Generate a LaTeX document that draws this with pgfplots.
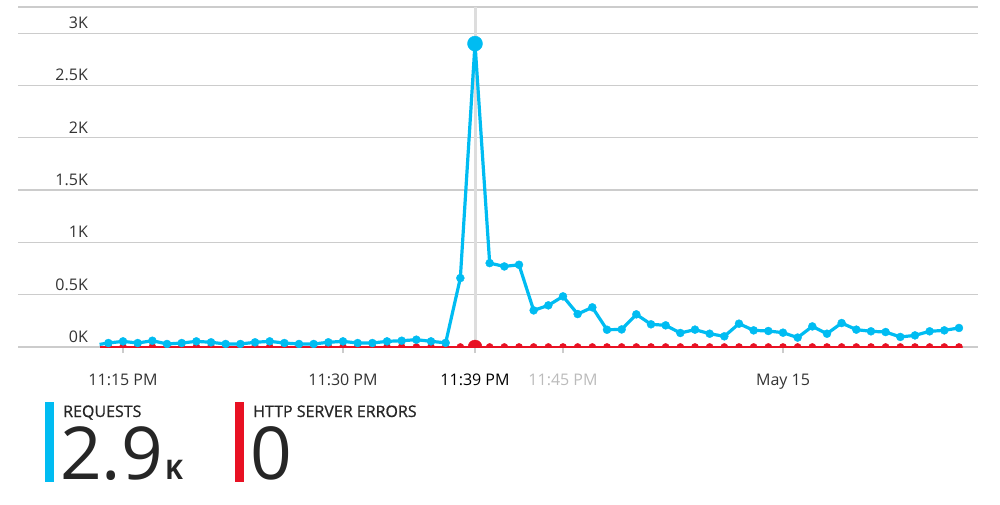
\documentclass[border=0pt]{standalone}
\usepackage{pgfplots}
\pgfplotsset{compat=1.18}
\usepackage{fontspec}
\setmainfont{Open Sans}
\newfontfamily\semib{Open Sans}[FakeBold=0.8]
\definecolor{azblue}{HTML}{00BCF2}
\definecolor{azred}{HTML}{E81123}
\definecolor{gridc}{HTML}{CCCCCC}
\definecolor{hil}{HTML}{DDDDDD}
\definecolor{txt}{HTML}{333333}
\definecolor{lgt}{HTML}{BBBBBB}

\pgfplotstableread{
m v
-25.6 25
-25 38
-24 54
-23 38
-22 60
-21 29
-20 38
-19 54
-18 45
-17 29
-16 29
-15 45
-14 54
-13 38
-12 29
-11 29
-10 45
-9 54
-8 38
-7 38
-6 54
-5 60
-4 70
-3 54
-2 40
-1 659
0 2900
1 802
2 770
3 786
4 350
5 398
6 484
7 315
8 379
9 165
10 168
11 312
12 217
13 207
14 134
15 166
16 127
17 102
18 223
19 159
20 153
21 137
22 90
23 197
24 127
25 229
26 166
27 150
28 143
29 96
30 111
31 150
32 159
33 182
}\requests

\pgfplotstableread{
m v
-25.6 0
-25 0
-24 0
-23 0
-22 0
-21 0
-20 0
-19 0
-18 0
-17 0
-16 0
-15 0
-14 0
-13 0
-12 0
-11 0
-10 0
-9 0
-8 0
-7 0
-6 0
-5 0
-4 0
-3 0
-2 0
-1 0
0 0
1 0
2 0
3 0
4 0
5 0
6 0
7 0
8 0
9 0
10 0
11 0
12 0
13 0
14 0
15 0
16 0
17 0
18 0
19 0
20 0
21 0
22 0
23 0
24 0
25 0
26 0
27 0
28 0
29 0
30 0
31 0
32 0
33 0
}\errors

\begin{document}
\begin{tikzpicture}[x=1pt,y=1pt]
\begin{axis}[
  at={(475pt,157pt)}, anchor=origin, scale only axis,
  width=960pt, height=340pt,
  xmin=-31.16, xmax=34.3, ymin=0, ymax=3250,
  axis line style={draw=none},
  ytick={0,500,1000,1500,2000,2500,3000,3250},
  yticklabels={0K,0.5K,1K,1.5K,2K,2.5K,3K,{}},
  ymajorgrids, major grid style={gridc, line width=1.3pt},
  ytick style={draw=none}, ytick pos=left,
  yticklabel style={anchor=base east, inner sep=0pt, xshift=70pt, yshift=4.5pt,
    font=\fontsize{16}{16}\selectfont, text=txt},
  xtick={-24,-9,0,6,21},
  xticklabels={{11:15 PM},{11:30 PM},{\textcolor{black}{11:39 PM}},{\textcolor{lgt}{11:45 PM}},{May 15}},
  xtick pos=bottom, xtick align=outside, major tick length=6pt,
  xtick style={gridc, line width=1.3pt},
  xticklabel style={anchor=base, inner sep=0pt, yshift=-32pt,
    font=\fontsize{16}{16}\selectfont, text=txt},
  clip marker paths=true,
  /pgf/number format/assume math mode=true,
]
\addplot[hil, line width=3pt, forget plot] coordinates {(0,0) (0,3250)};
% errors
\addplot[azred, line width=2pt, no marks] table[x=m,y=v] {\errors};
\addplot[azred, only marks, mark=*, mark size=3.6pt, mark options={draw=none, fill=azred},
  restrict x to domain=-25:40] table[x=m,y=v] {\errors};
\addplot[azred, only marks, mark=*, mark size=7pt, mark options={draw=none, fill=azred}] coordinates {(0,0)};
% requests
\addplot[azblue, line width=3.2pt, no marks, line join=round] table[x=m,y=v] {\requests};
\addplot[azblue, only marks, mark=*, mark size=4pt, mark options={draw=none, fill=azblue},
  restrict x to domain=-25:40] table[x=m,y=v] {\requests};
\addplot[azblue, only marks, mark=*, mark size=7.5pt, mark options={draw=none, fill=azblue}] coordinates {(0,2900)};
\end{axis}
% legend / summary tiles
\fill[azblue] (45,22) rectangle (54,102);
\node[anchor=base west, inner sep=0pt, font=\fontsize{16}{16}\selectfont\semib, text=black!85] at (63,87) {REQUESTS};
\node[anchor=base west, inner sep=0pt, font=\fontsize{73}{73}\selectfont, text=black!85] at (60,25) {2.9};
\node[anchor=base west, inner sep=0pt, font=\fontsize{27}{27}\selectfont\bfseries, text=black!85] at (165,25) {K};
\fill[azred] (235,22) rectangle (244,102);
\node[anchor=base west, inner sep=0pt, font=\fontsize{16}{16}\selectfont\semib, text=black!85] at (253,87) {HTTP SERVER ERRORS};
\node[anchor=base west, inner sep=0pt, font=\fontsize{73}{73}\selectfont, text=black!85] at (250,25) {0};
\pgfresetboundingbox
\path[use as bounding box] (0,0) rectangle (1000,504);
\end{tikzpicture}
\end{document}
